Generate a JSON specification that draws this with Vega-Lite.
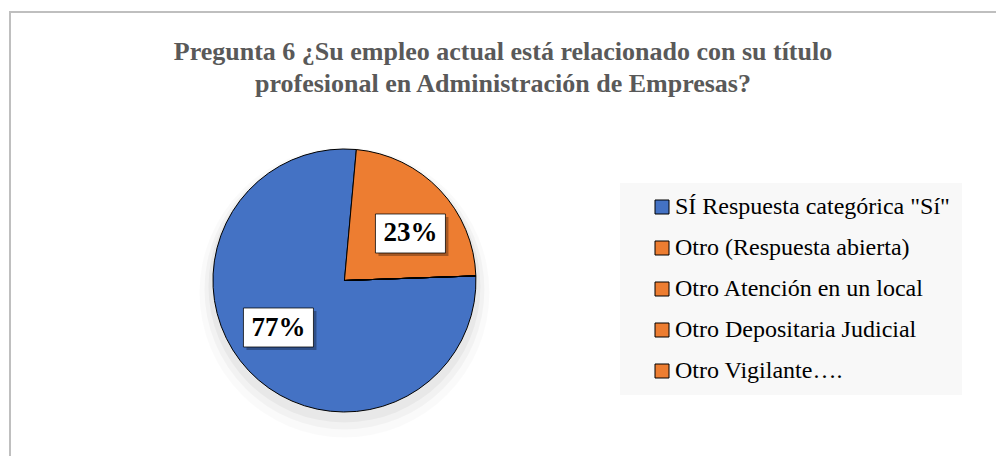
{
  "$schema": "https://vega.github.io/schema/vega-lite/v6.json",
  "width": 986,
  "height": 444,
  "autosize": {"type": "none"},
  "padding": {"left": 10, "top": 12, "right": 0, "bottom": 0},
  "background": "white",
  "config": {
    "view": {"stroke": "#BFBFBF", "strokeWidth": 2, "strokeDash": [986, 1430, 444, 1430]},
    "font": "Liberation Serif"
  },
  "title": {
    "text": ["Pregunta 6 ¿Su empleo actual está relacionado con su título", "profesional en Administración de Empresas?"],
    "font": "Liberation Serif",
    "fontSize": 26,
    "fontWeight": "bold",
    "color": "#595959",
    "anchor": "middle",
    "frame": "group",
    "offset": -85,
    "lineHeight": 32
  },
  "data": {
    "values": [
      {"categoria": "SÍ Respuesta categórica \"Sí\"", "valor": 77, "etiqueta": "77%", "orden": 1},
      {"categoria": "Otro (Respuesta abierta)", "valor": 23, "etiqueta": "23%", "orden": 2},
      {"categoria": "Otro Atención en un local", "valor": 0, "etiqueta": "", "orden": 3},
      {"categoria": "Otro Depositaria Judicial", "valor": 0, "etiqueta": "", "orden": 4},
      {"categoria": "Otro Vigilante….", "valor": 0, "etiqueta": "", "orden": 5}
    ]
  },
  "encoding": {
    "x": {"datum": "pie", "type": "nominal", "scale": {"type": "point", "align": 0.3392}, "axis": null},
    "y": {"datum": "pie", "type": "nominal", "scale": {"type": "point", "align": 0.6047}, "axis": null}
  },
  "layer": [
    {
      "data": {"values": [{}]},
      "mark": {"type": "arc", "outerRadius": 145, "fill": "black", "opacity": 0.02, "yOffset": 12}
    },
    {
      "data": {"values": [{}]},
      "mark": {"type": "arc", "outerRadius": 140, "fill": "black", "opacity": 0.03, "yOffset": 9}
    },
    {
      "data": {"values": [{}]},
      "mark": {"type": "arc", "outerRadius": 136, "fill": "black", "opacity": 0.04, "yOffset": 6}
    },
    {
      "mark": {"type": "arc", "outerRadius": 131.5, "stroke": "black", "strokeWidth": 1},
      "encoding": {
        "theta": {"field": "valor", "type": "quantitative", "stack": true, "scale": {"range": [1.536, 7.819]}},
        "order": {"field": "orden", "type": "quantitative"},
        "color": {
          "field": "categoria",
          "type": "nominal",
          "sort": null,
          "scale": {
            "domain": ["SÍ Respuesta categórica \"Sí\"", "Otro (Respuesta abierta)", "Otro Atención en un local", "Otro Depositaria Judicial", "Otro Vigilante…."],
            "range": ["#4472C4", "#ED7D31", "#ED7D31", "#ED7D31", "#ED7D31"]
          },
          "legend": {
            "orient": "none",
            "legendX": 610,
            "legendY": 171,
            "title": null,
            "fillColor": "#F8F8F8",
            "padding": 12,
            "symbolType": "square",
            "symbolSize": 196,
            "symbolStrokeColor": "black",
            "symbolStrokeWidth": 1,
            "symbolOpacity": 1,
            "symbolOffset": 18,
            "labelFont": "Liberation Serif",
            "labelFontSize": 24,
            "labelColor": "black",
            "labelOffset": 1,
            "rowPadding": 17,
            "labelLimit": 500
          }
        }
      }
    },
    {
      "transform": [{"filter": "datum.valor > 0"}],
      "mark": {"type": "point", "filled": true, "fill": "black", "opacity": 0.3, "size": 4, "xOffset": 3, "yOffset": 3, "strokeWidth": 0},
      "encoding": {
        "shape": {
          "field": "etiqueta",
          "type": "nominal",
          "scale": {"domain": ["77%", "23%"], "range": ["M-101,27.5H-31V66.5H-101Z", "M31,-66.5H101V-27.5H31Z"]},
          "legend": null
        }
      }
    },
    {
      "transform": [{"filter": "datum.valor > 0"}],
      "mark": {"type": "point", "filled": true, "fill": "white", "opacity": 1, "size": 4, "stroke": "black", "strokeWidth": 0.75},
      "encoding": {
        "shape": {"field": "etiqueta", "type": "nominal", "legend": null}
      }
    },
    {
      "mark": {"type": "text", "radius": 81, "thetaOffset": 0.138, "fontSize": 27, "fontWeight": "bold", "font": "Liberation Serif", "color": "black"},
      "encoding": {
        "theta": {"field": "valor", "type": "quantitative", "stack": true},
        "order": {"field": "orden", "type": "quantitative"},
        "text": {"field": "etiqueta", "type": "nominal"}
      }
    }
  ]
}
